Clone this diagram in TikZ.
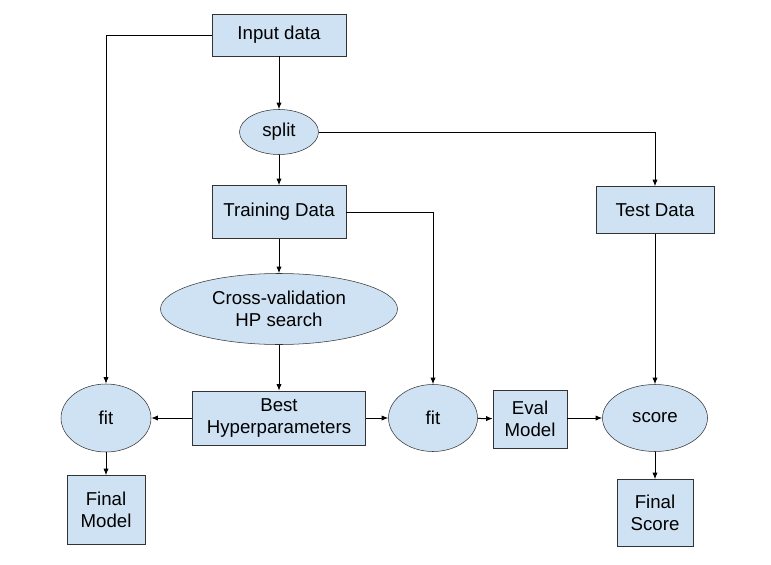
\documentclass[tikz,border=0pt]{standalone}
\usepackage{fontspec}
\setmainfont{Liberation Sans}
\usetikzlibrary{arrows.meta,shapes.geometric}
\definecolor{boxblue}{HTML}{CFE2F3}
\definecolor{edgegray}{HTML}{333333}
\tikzset{
  box/.style={draw=edgegray,fill=boxblue,inner sep=0pt,align=center,font=\fontsize{14}{16.5}\selectfont},
  oval/.style={ellipse,draw=edgegray,fill=boxblue,inner sep=0pt,align=center,font=\fontsize{14}{16.5}\selectfont},
  flow/.style={line width=0.75pt,-{Latex[length=5pt,width=4pt]}}
}
\begin{document}
\begin{tikzpicture}[x=0.75pt,y=-0.75pt]
\useasboundingbox (0,0) rectangle (771,564);
% nodes
\node (input) at (279,35) [box,minimum width=100.5pt,minimum height=31.5pt] {Input data};
\node (split) at (279,132) [oval,minimum width=59.25pt,minimum height=33.75pt] {split};
\node (train) at (279,212) [box,minimum width=100.5pt,minimum height=39.75pt] {Training Data};
\node (test) at (655,210) [box,minimum width=88.5pt,minimum height=35.25pt] {Test Data};
\node (cv) at (279,309) [oval,minimum width=177.75pt,minimum height=53.25pt] {Cross-validation\\HP search};
\node (best) at (279,418) [box,minimum width=129.75pt,minimum height=40.5pt] {Best\\Hyperparameters};
\node (fitL) at (106,418) [oval,minimum width=67.5pt,minimum height=51pt] {fit};
\node (finalM) at (106,510) [box,minimum width=58.5pt,minimum height=51.75pt] {Final\\Model};
\node (fitM) at (433,418) [oval,minimum width=66.75pt,minimum height=50.25pt] {fit};
\node (eval) at (530,419) [box,minimum width=55.5pt,minimum height=43.5pt] {Eval\\Model};
\node (score) at (655,418) [oval,minimum width=78.75pt,minimum height=50.25pt] {score};
\node (finalS) at (655,513) [box,minimum width=57pt,minimum height=50.25pt] {Final\\Score};
% connectors
\draw[flow] (input.west) -| (fitL.north);
\draw[flow] (input) -- (split);
\draw[flow] (split.east) -| (test.north);
\draw[flow] (split) -- (train);
\draw[flow] (train.east) -| (fitM.north);
\draw[flow] (train) -- (cv);
\draw[flow] (cv) -- (best);
\draw[flow] (best) -- (fitL);
\draw[flow] (best) -- (fitM);
\draw[flow] (fitM) -- (eval);
\draw[flow] (eval.east |- score) -- (score);
\draw[flow] (test) -- (score);
\draw[flow] (fitL) -- (finalM);
\draw[flow] (score) -- (finalS);
\end{tikzpicture}
\end{document}
